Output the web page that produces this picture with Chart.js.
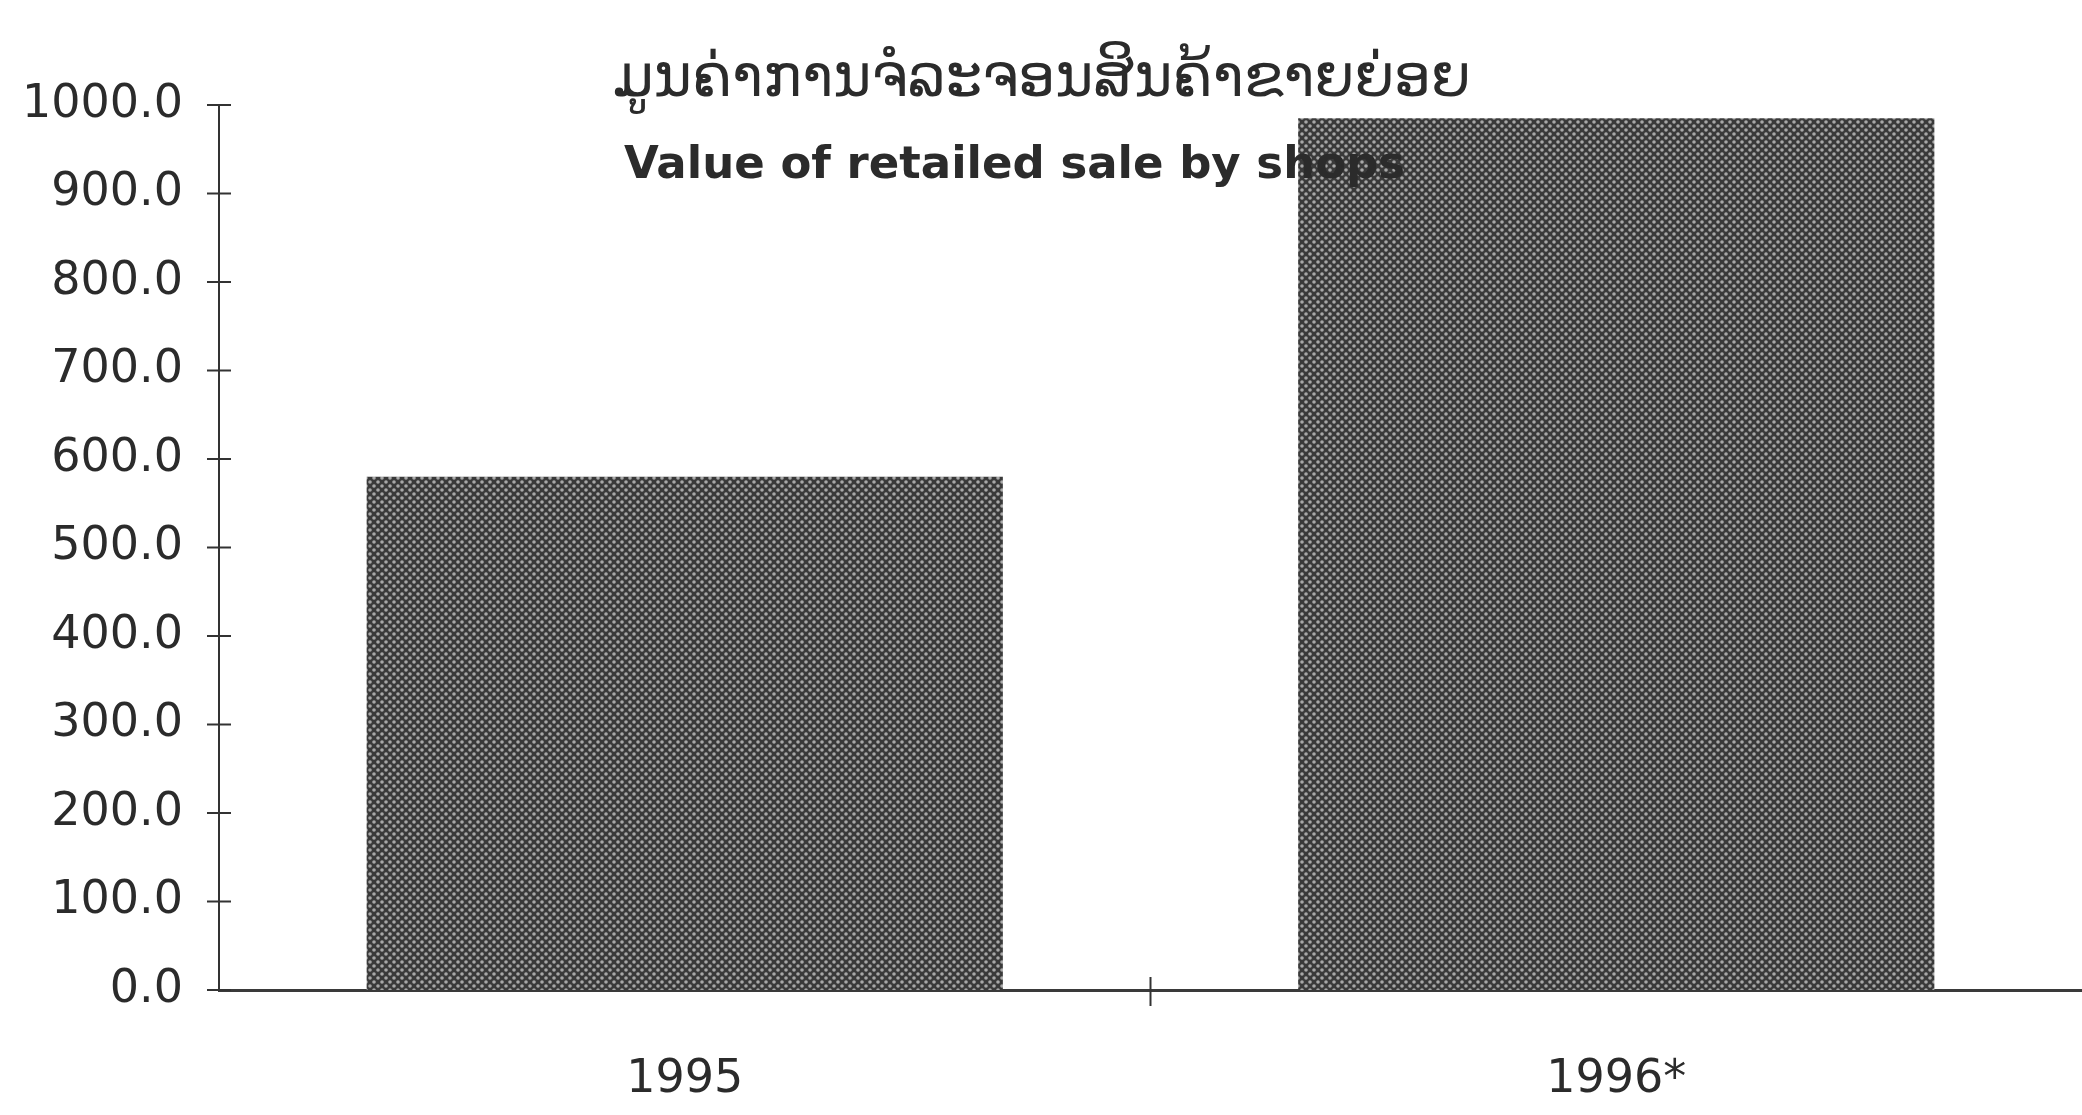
<!DOCTYPE html>
<html lang="lo">
<head>
    <meta charset="UTF-8">
    <title>Value of retailed sale by shops</title>
    <script src="https://cdn.jsdelivr.net/npm/chart.js"></script>
    <style>
        body { margin: 0; background: #fff; overflow: hidden; }
        .wrap { position: relative; width: 2082px; height: 1115px; }
        .title-lo { position: absolute; left: 613px; top: 42px; font: 58px "DejaVu Sans", "Noto Sans", sans-serif; color: #2b2b2b; white-space: nowrap; z-index: 2; pointer-events: none; }
        .title-en { position: absolute; left: 624px; top: 136px; font: bold 45px "DejaVu Sans", sans-serif; color: #2b2b2b; white-space: nowrap; z-index: 2; pointer-events: none; }
    </style>
</head>
<body>
    <div class="wrap">
        <div class="title-lo">ມູນຄ່າການຈໍລະຈອນສິນຄ້າຂາຍຍ່ອຍ</div>
        <div class="title-en">Value of retailed sale by shops</div>
        <canvas id="chart" width="2082" height="1115"></canvas>
    </div>

    <script>
        const years = ['1995', '1996*'];
        const retailValues = [580, 985];
        const yTicks = [0, 100, 200, 300, 400, 500, 600, 700, 800, 900, 1000];

        // halftone-ish fill like the printed bars
        function makePattern() {
            const tile = document.createElement('canvas');
            tile.width = 8;
            tile.height = 8;
            const c = tile.getContext('2d');
            c.fillStyle = '#3a3a3a';
            c.fillRect(0, 0, 8, 8);
            c.fillStyle = '#a8a8a8';
            [[2, 2], [6, 6]].forEach(([x, y]) => {
                c.beginPath();
                c.arc(x, y, 1.8, 0, Math.PI * 2);
                c.fill();
            });
            return c.createPattern(tile, 'repeat');
        }

        // tick marks that cross the axis lines
        const crossTicks = {
            id: 'crossTicks',
            afterDraw(chart) {
                const { ctx, chartArea, scales } = chart;
                ctx.save();
                ctx.strokeStyle = '#333';
                ctx.lineWidth = 2;
                scales.y.ticks.forEach(t => {
                    const y = scales.y.getPixelForValue(t.value);
                    ctx.beginPath();
                    ctx.moveTo(chartArea.left - 12, y);
                    ctx.lineTo(chartArea.left + 12, y);
                    ctx.stroke();
                });
                for (let i = 1; i < years.length; i++) {
                    const x = (scales.x.getPixelForValue(i - 1) + scales.x.getPixelForValue(i)) / 2;
                    ctx.beginPath();
                    ctx.moveTo(x, chartArea.bottom - 13);
                    ctx.lineTo(x, chartArea.bottom + 16);
                    ctx.stroke();
                }
                ctx.restore();
            }
        };

        new Chart(document.getElementById('chart'), {
            type: 'bar',
            data: {
                labels: years,
                datasets: [{
                    data: retailValues,
                    backgroundColor: makePattern(),
                    borderWidth: 0,
                    barPercentage: 0.683,
                    categoryPercentage: 1
                }]
            },
            options: {
                responsive: false,
                animation: false,
                layout: { padding: { top: 105, left: 0, right: 0, bottom: 0 } },
                plugins: {
                    legend: { display: false },
                    tooltip: { enabled: false }
                },
                scales: {
                    x: {
                        grid: { display: false, drawTicks: false },
                        border: { display: true, color: '#3a3a3a', width: 3 },
                        ticks: {
                            color: '#2b2b2b',
                            padding: 62,
                            font: { family: 'DejaVu Sans', size: 46 }
                        },
                        afterFit(scale) { scale.height = 125; }
                    },
                    y: {
                        min: 0,
                        max: 1000,
                        afterBuildTicks(scale) { scale.ticks = yTicks.map(v => ({ value: v })); },
                        grid: { display: false, drawTicks: false },
                        border: { display: true, color: '#333', width: 2 },
                        ticks: {
                            color: '#2b2b2b',
                            padding: 36,
                            font: { family: 'DejaVu Sans', size: 46 },
                            callback: v => v.toFixed(1)
                        },
                        afterFit(scale) { scale.width = 219; }
                    }
                }
            },
            plugins: [crossTicks]
        });
    </script>
</body>
</html>
